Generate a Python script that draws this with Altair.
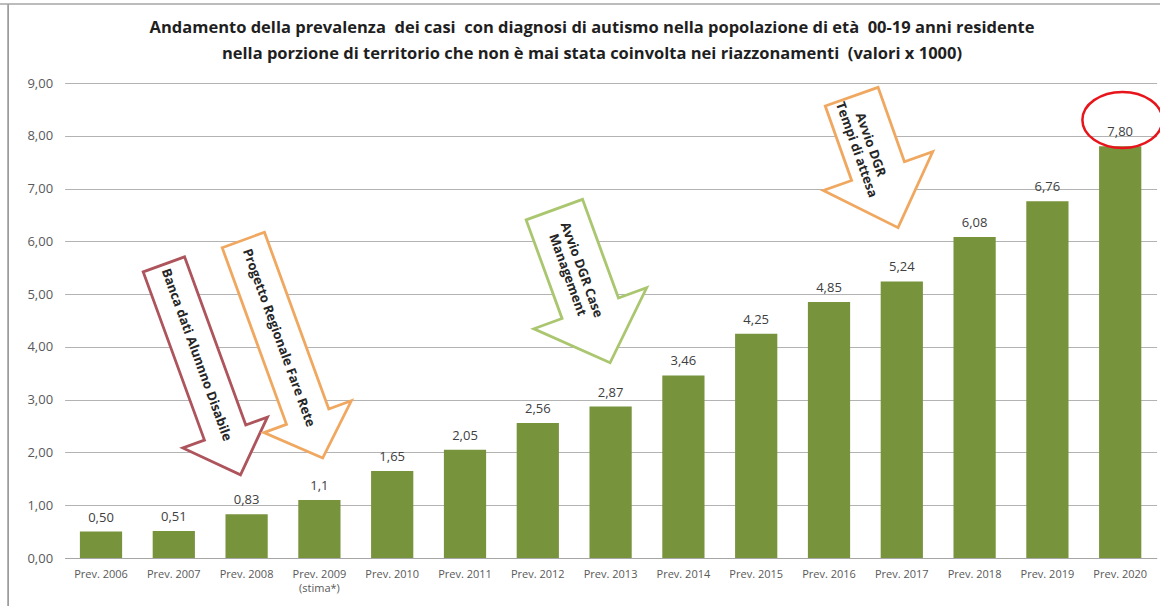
import altair as alt
import pandas as pd

# ---------------- data ----------------
categories = ["Prev. 2006", "Prev. 2007", "Prev. 2008", "Prev. 2009", "Prev. 2010",
              "Prev. 2011", "Prev. 2012", "Prev. 2013", "Prev. 2014", "Prev. 2015",
              "Prev. 2016", "Prev. 2017", "Prev. 2018", "Prev. 2019", "Prev. 2020"]
values = [0.50, 0.51, 0.83, 1.10, 1.65, 2.05, 2.56, 2.87, 3.46, 4.25,
          4.85, 5.24, 6.08, 6.76, 7.80]
value_labels = ["0,50", "0,51", "0,83", "1,1", "1,65", "2,05", "2,56", "2,87", "3,46",
                "4,25", "4,85", "5,24", "6,08", "6,76", "7,80"]

title_text = ("Andamento della prevalenza \u00a0dei casi \u00a0con diagnosi di autismo nella popolazione di età \u00a000-19 anni residente\n"
              "nella porzione di territorio che non è mai stata coinvolta nei riazzonamenti \u00a0(valori x 1000)")

# annotation arrows (positions in category-index / value units)
arrow_texts = ["Banca dati Alunnno Disabile", "Progetto Regionale Fare Rete",
               "Avvio DGR Case\nManagement", "Avvio DGR\nTempi di attesa"]
arrow_x = [1.39, 2.50, 6.61, 10.63]
arrow_y = [3.57, 3.96, 5.15, 7.50]
text_x = [1.31, 2.44, 6.60, 10.57]
text_y = [3.85, 4.17, 5.46, 7.83]
arrow_len = [224, 232, 163, 139]
shaft_w = [44, 45, 60, 56]
head_w = [90, 93, 120, 116]
head_len = [45, 44, 58, 60]
arrow_tilt = [20, 20, 20, 19.5]
arrow_colors = ["#ad545c", "#f0a861", "#aac66f", "#f0a861"]

highlight_x = [14.03]
highlight_y = [8.30]

# ---------------- helpers ----------------
def arrow_path(L, w, W, h):
    t = -L / 2
    b = L / 2
    hb = b - h
    return (f"M {-w/2},{t} L {w/2},{t} L {w/2},{hb} L {W/2},{hb} L 0,{b} "
            f"L {-W/2},{hb} L {-w/2},{hb} Z")

ellipse_path = "M -40,0 A 40,28 0 1,0 40,0 A 40,28 0 1,0 -40,0 Z"

bars_df = pd.DataFrame({"cat": categories, "value": values, "label": value_labels})
arrows_df = pd.DataFrame({
    "ax": arrow_x, "ay": arrow_y,
    "path": [arrow_path(*p) for p in zip(arrow_len, shaft_w, head_w, head_len)],
    "col": arrow_colors,
    "angle": [360 - t for t in arrow_tilt],
})
texts_df = pd.DataFrame({
    "tx": text_x, "ty": text_y, "txt": arrow_texts,
    "tangle": [90 - t for t in arrow_tilt],
})
hl_df = pd.DataFrame({"hx": highlight_x, "hy": highlight_y})
title_df = pd.DataFrame({"t": [title_text]})

FONT = "'Open Sans', Lato, sans-serif"
YDOM = [0, 9]

x_band = alt.X("cat:N", sort=categories,
               scale=alt.Scale(paddingInner=0.42, paddingOuter=0.21),
               axis=alt.Axis(title=None, labelAngle=0, ticks=False, domain=True,
                             domainColor="#a6a6a6", labelPadding=10, labelLineHeight=14,
                             labelFontSize=11, labelColor="#595959", labelFont=FONT,
                             labelExpr="datum.value == 'Prev. 2009' ? ['Prev. 2009', '(stima*)'] : datum.value"))

bars = alt.Chart(bars_df).mark_bar(color="#77933c").encode(
    x=x_band,
    y=alt.Y("value:Q", scale=alt.Scale(domain=YDOM, nice=False),
            axis=alt.Axis(title=None, values=list(range(10)), ticks=False, domain=False,
                          gridColor="#b3b3b3", labelPadding=12, labelFontSize=13,
                          labelColor="#595959", labelFont=FONT,
                          labelExpr="replace(format(datum.value, '.2f'), '.', ',')")),
)
labels = alt.Chart(bars_df).mark_text(baseline="middle", dy=-14, fontSize=13,
                                      color="#404040", font=FONT).encode(
    x=alt.X("cat:N", sort=categories),
    y=alt.Y("value:Q"),
    text="label:N",
)
base = alt.layer(bars, labels)

xq = dict(scale=alt.Scale(domain=[-0.5, 14.5], nice=False, zero=False), axis=None)
yq = dict(scale=alt.Scale(domain=YDOM, nice=False, zero=False), axis=None)

arrows = alt.Chart(arrows_df).mark_point(
    fill="white", fillOpacity=1, opacity=1, strokeWidth=2.8, size=4, filled=False
).encode(
    x=alt.X("ax:Q", **xq),
    y=alt.Y("ay:Q", **yq),
    shape=alt.Shape("path:N", scale=None),
    stroke=alt.Stroke("col:N", scale=None),
    angle=alt.Angle("angle:Q", scale=None),
)

arrow_text = alt.Chart(texts_df).mark_text(
    font=FONT, fontSize=13, fontWeight="bold", color="#262626",
    align="center", baseline="middle", lineBreak="\n", lineHeight=15
).encode(
    x=alt.X("tx:Q", **xq),
    y=alt.Y("ty:Q", **yq),
    text="txt:N",
    angle=alt.Angle("tangle:Q", scale=None),
)

ellipse = alt.Chart(hl_df).mark_point(
    shape=ellipse_path, size=4, filled=False, stroke="#e8141b", strokeWidth=2.5, opacity=1
).encode(
    x=alt.X("hx:Q", **xq),
    y=alt.Y("hy:Q", **yq),
)

title = alt.Chart(title_df).mark_text(
    font=FONT, fontSize=16.5, fontWeight="bold", color="#1f1f1f", align="center",
    baseline="alphabetic", lineBreak="\n", lineHeight=26
).encode(x=alt.value(527.4), y=alt.value(-50), text="t:N")

frame_left = alt.Chart(pd.DataFrame({"k": [0]})).mark_rule(color="#8c8c8c", strokeWidth=1.5).encode(
    x=alt.value(-56.5), y=alt.value(-79), y2=alt.value(525))
frame_top = alt.Chart(pd.DataFrame({"k": [0]})).mark_rule(color="#a6a6a6", strokeWidth=1.5).encode(
    x=alt.value(-66), x2=alt.value(1100), y=alt.value(-79))

chart = alt.layer(base, arrows, arrow_text, ellipse, title, frame_left, frame_top).resolve_scale(
    x="independent", y="independent"
).properties(
    width=1092, height=475,
    padding={"left": 64.6, "top": 83, "right": 3.4, "bottom": 48},
    autosize=alt.AutoSizeParams(type="none"),
    background="white",
).configure_view(stroke=None)

chart.save("out.html", embed_options={"renderer": "svg", "actions": False})
